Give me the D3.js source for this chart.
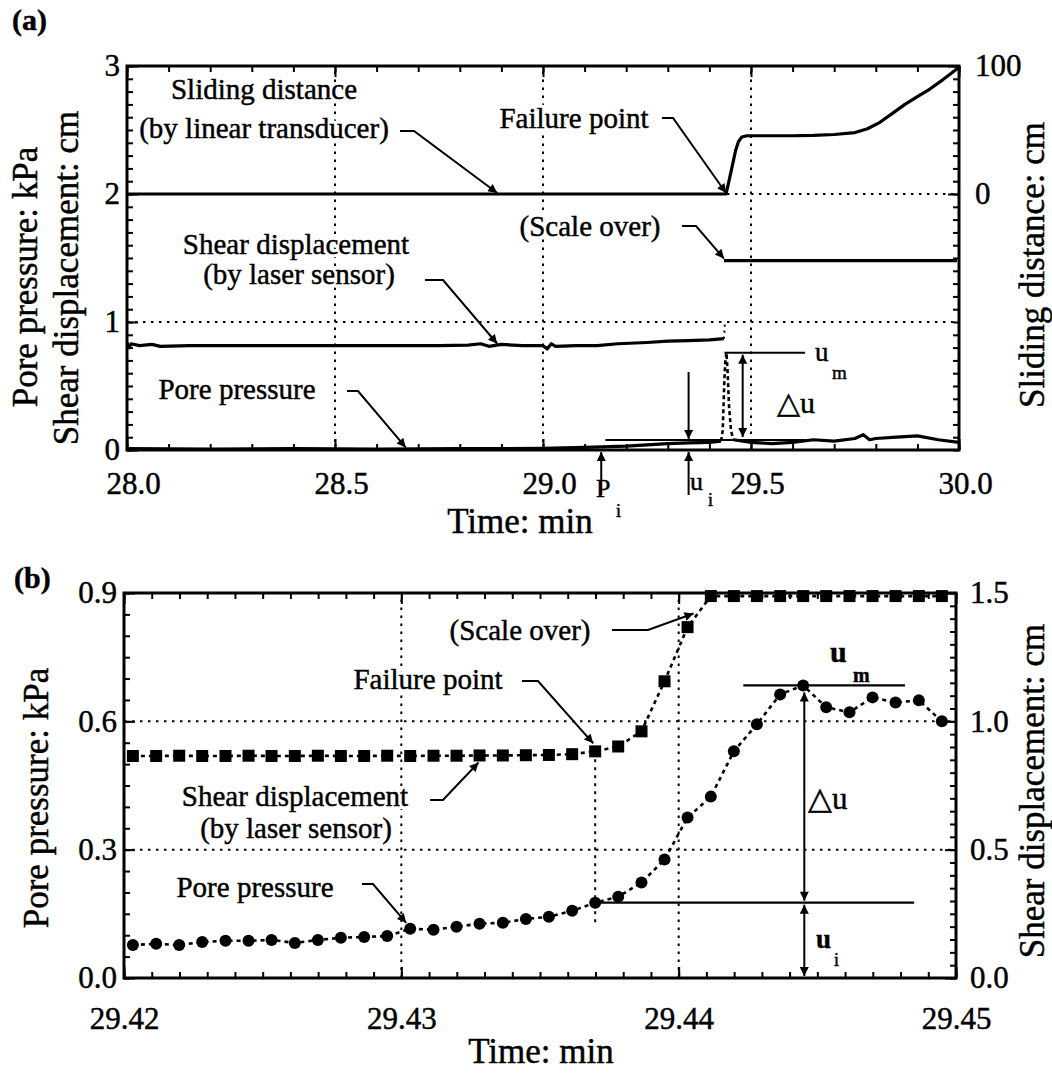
<!DOCTYPE html>
<html><head><meta charset="utf-8">
<script src="https://cdn.jsdelivr.net/npm/d3@7"></script>
<style>
body{margin:0;background:#fff;}
svg text{font-family:"Liberation Serif","Times New Roman",serif;fill:#000;stroke:#000;stroke-width:0.45px;}
svg text.halo{fill:#fff;stroke:#fff;stroke-width:7px;stroke-linejoin:round;}
</style></head><body>
<svg id="c" width="1052" height="1077"></svg>
<script>
// ================= Panel (a) data =================
const aTimeTicks = [28.0, 28.5, 29.0, 29.5, 30.0];
const aTimeTickLabels = ["28.0", "28.5", "29.0", "29.5", "30.0"];
const aLeftTicks = [0, 1, 2, 3];
const aLeftTickLabels = ["0", "1", "2", "3"];
const aRightTicks = [0, 100];
const aRightTickLabels = ["0", "100"];
const aGridTimes = [28.5, 29.0, 29.5];
const aGridLeft = [1, 2];

// Sliding distance (right axis, cm)
const aSlideTime = [28.0, 29.0, 29.44, 29.447, 29.455, 29.463, 29.47, 29.478, 29.49, 29.55, 29.60, 29.65, 29.70, 29.75, 29.78, 29.81, 29.84, 29.87, 29.90, 29.93, 29.96, 29.98, 30.0];
const aSlideVal  = [0, 0, 0, 10, 22, 34, 41, 44.5, 45.5, 45.5, 45.5, 45.8, 46.5, 48, 51, 56, 63, 70, 76, 82, 89, 94, 99];

// Shear displacement by laser sensor (left axis, cm)
const aShearTime = [28.00, 28.005, 28.01, 28.03, 28.06, 28.08, 28.15, 28.30, 28.45, 28.60, 28.75, 28.82, 28.85, 28.87, 28.90, 28.95, 29.00, 29.01, 29.02, 29.03, 29.08, 29.13, 29.18, 29.25, 29.30, 29.35, 29.40, 29.435];
const aShearVal  = [0.84, 0.80, 0.83, 0.815, 0.825, 0.81, 0.815, 0.815, 0.815, 0.815, 0.815, 0.82, 0.83, 0.81, 0.825, 0.815, 0.815, 0.79, 0.83, 0.81, 0.815, 0.815, 0.83, 0.84, 0.85, 0.855, 0.86, 0.87];
// Shear displacement after scale over
const aShearOverTime = [29.435, 29.995];
const aShearOverVal  = [1.48, 1.48];
const aShearJumpTime = [29.435, 29.437];
const aShearJumpVal  = [0.87, 0.98];

// Pore pressure (left axis, kPa)
const aPoreTime1 = [28.00, 28.20, 28.40, 28.60, 28.80, 29.00, 29.10, 29.20, 29.25, 29.30, 29.35, 29.40, 29.428];
const aPoreVal1  = [0.01, 0.008, 0.01, 0.008, 0.01, 0.012, 0.02, 0.03, 0.04, 0.05, 0.055, 0.06, 0.07];
const aPoreSpikeTime = [29.428, 29.432, 29.434, 29.436, 29.438, 29.441, 29.444, 29.447, 29.452, 29.458];
const aPoreSpikeVal  = [0.07, 0.15, 0.35, 0.55, 0.68, 0.76, 0.60, 0.35, 0.15, 0.08];
const aPoreTime2 = [29.458, 29.50, 29.55, 29.60, 29.65, 29.70, 29.75, 29.77, 29.785, 29.80, 29.85, 29.90, 29.95, 30.0];
const aPoreVal2  = [0.08, 0.06, 0.05, 0.06, 0.08, 0.07, 0.09, 0.12, 0.08, 0.09, 0.10, 0.11, 0.08, 0.06];

// key levels (a)
const aUm = 0.76, aUi = 0.078, aUmTime = [29.436, 29.63], aUiTime = [29.15, 29.63];
const aDeltaTime = 29.48, aUiArrowTime = 29.35, aPiTime = 29.14;

// ================= Panel (b) data =================
const bTimeTicks = [29.42, 29.43, 29.44, 29.45];
const bTimeTickLabels = ["29.42", "29.43", "29.44", "29.45"];
const bLeftTicks = [0, 0.3, 0.6, 0.9];
const bLeftTickLabels = ["0.0", "0.3", "0.6", "0.9"];
const bRightTicks = [0, 0.5, 1.0, 1.5];
const bRightTickLabels = ["0.0", "0.5", "1.0", "1.5"];
const bGridTimes = [29.43, 29.44];
const bGridLeft = [0.3, 0.6];

const bTime = [29.42032, 29.42116, 29.42199, 29.42282, 29.42366, 29.42449, 29.42532, 29.42616, 29.42699, 29.42782,
               29.42866, 29.42949, 29.43032, 29.43116, 29.43199, 29.43282, 29.43366, 29.43449, 29.43532, 29.43616,
               29.43699, 29.43782, 29.43866, 29.43949, 29.44032, 29.44116, 29.44199, 29.44282, 29.44366, 29.44449,
               29.44532, 29.44616, 29.44699, 29.44782, 29.44866, 29.44949];
// Pore pressure (kPa, left axis)
const bPore = [0.077, 0.080, 0.077, 0.084, 0.087, 0.087, 0.089, 0.082, 0.089, 0.094,
               0.096, 0.098, 0.115, 0.113, 0.120, 0.127, 0.129, 0.138, 0.143, 0.157,
               0.176, 0.190, 0.223, 0.277, 0.375, 0.424, 0.530, 0.593, 0.663, 0.684,
               0.633, 0.621, 0.656, 0.644, 0.649, 0.600];
// Shear displacement (cm, right axis)
const bShear = [0.865, 0.865, 0.866, 0.865, 0.865, 0.866, 0.865, 0.865, 0.866, 0.865,
                0.865, 0.866, 0.865, 0.866, 0.866, 0.867, 0.867, 0.868, 0.869, 0.872,
                0.883, 0.902, 0.961, 1.156, 1.367, 1.488, 1.488, 1.488, 1.488, 1.488,
                1.488, 1.488, 1.488, 1.488, 1.488, 1.488];
const bFailIndex = 20, bPeakIndex = 29;
const bUiTimeEnd = 29.44849, bUmTime = [29.44233, 29.44816];
const bDeltaTime = 29.44453;

// ================= Drawing =================
const svg = d3.select("#c");
const defs = svg.append("defs");
defs.append("marker").attr("id", "ah").attr("viewBox", "0 0 10 10")
  .attr("refX", 10).attr("refY", 5).attr("markerWidth", 16).attr("markerHeight", 9)
  .attr("markerUnits", "userSpaceOnUse").attr("orient", "auto-start-reverse")
  .append("path").attr("d", "M0,0 L10,5 L0,10 Z").attr("fill", "#000");

const TICKF = 31, ANNF = 29, TITLEF = 35;

function text(g, x, y, s, size, anchor, extra) {
  const t = g.append("text").attr("x", x).attr("y", y).attr("font-size", size)
    .attr("text-anchor", anchor || "middle").text(s);
  if (extra) extra(t);
  return t;
}
function annText(gHalo, gText, x, y, s) {
  text(gHalo, x, y, s, ANNF, "middle").attr("class", "halo");
  return text(gText, x, y, s, ANNF, "middle");
}
function leader(g, pts) {
  g.append("path").attr("d", d3.line()(pts)).attr("fill", "none")
    .attr("stroke", "#000").attr("stroke-width", 2).attr("marker-end", "url(#ah)");
}
function vArrow(g, x, y1, y2, both) {
  const p = g.append("line").attr("x1", x).attr("x2", x).attr("y1", y1).attr("y2", y2)
    .attr("stroke", "#000").attr("stroke-width", 2).attr("marker-end", "url(#ah)");
  if (both) p.attr("marker-start", "url(#ah)");
}
function rotText(g, x, y, s) {
  g.append("text").attr("transform", `translate(${x},${y}) rotate(-90)`).attr("dy", "0.35em")
    .attr("text-anchor", "middle").attr("font-size", TITLEF).text(s);
}

function frameAndAxes(g, x, yL, yR, opt) {
  const [x0, x1] = x.range(); const [y0, y1] = yL.range();
  const grid = g.append("g").attr("stroke", "#000").attr("stroke-width", 2).attr("stroke-dasharray", "2.5,5.5");
  opt.gridX.forEach(t => grid.append("line").attr("x1", x(t)).attr("x2", x(t)).attr("y1", y0).attr("y2", y1));
  opt.gridY.forEach(v => grid.append("line").attr("x1", x0).attr("x2", x1).attr("y1", yL(v)).attr("y2", yL(v)));
  function styleAxis(a) {
    a.select(".domain").remove();
    a.selectAll("line").attr("stroke-width", 2);
    a.selectAll("text").attr("font-size", TICKF).attr("font-family", "Liberation Serif, serif");
  }
  g.append("g").attr("transform", `translate(0,${y0})`)
    .call(d3.axisBottom(x).tickValues(opt.minorX).tickSize(-6).tickFormat("")).call(styleAxis);
  g.append("g").attr("transform", `translate(0,${y0})`)
    .call(d3.axisBottom(x).tickValues(opt.xTicks).tickSize(-11).tickPadding(opt.xPad)
      .tickFormat((d, i) => opt.xLabels[i])).call(styleAxis)
    .selectAll("text").attr("dx", opt.xdx);
  g.append("g").attr("transform", `translate(0,${y1})`)
    .call(d3.axisTop(x).tickValues(opt.minorX).tickSize(-6).tickFormat("")).call(styleAxis);
  g.append("g").attr("transform", `translate(0,${y1})`)
    .call(d3.axisTop(x).tickValues(opt.xTicks).tickSize(-11).tickFormat("")).call(styleAxis);
  g.append("g").attr("transform", `translate(${x0},0)`)
    .call(d3.axisLeft(yL).tickValues(opt.minorL).tickSize(-6).tickFormat("")).call(styleAxis);
  g.append("g").attr("transform", `translate(${x0},0)`)
    .call(d3.axisLeft(yL).tickValues(opt.lTicks).tickSize(-11).tickPadding(7)
      .tickFormat((d, i) => opt.lLabels[i])).call(styleAxis);
  g.append("g").attr("transform", `translate(${x1},0)`)
    .call(d3.axisRight(yR).tickValues(opt.minorR).tickSize(-6).tickFormat("")).call(styleAxis);
  g.append("g").attr("transform", `translate(${x1},0)`)
    .call(d3.axisRight(yR).tickValues(opt.rTicks).tickSize(-11).tickPadding(opt.rPad)
      .tickFormat((d, i) => opt.rLabels[i])).call(styleAxis);
  g.append("rect").attr("x", x0).attr("y", y1).attr("width", x1 - x0).attr("height", y0 - y1)
    .attr("fill", "none").attr("stroke", "#000").attr("stroke-width", 3);
}

function rng(a, b, s) { const out = []; for (let v = a; v <= b + s / 1000; v += s) out.push(+v.toFixed(6)); return out; }

// ---------- Panel (a) ----------
{
  const g = svg.append("g");
  const x = d3.scaleLinear().domain([28, 30]).range([127, 959]);
  const yL = d3.scaleLinear().domain([0, 3]).range([450, 66]);
  const yR = d3.scaleLinear().domain([-200, 100]).range([450, 66]);

  frameAndAxes(g, x, yL, yR, {
    gridX: aGridTimes, gridY: aGridLeft,
    minorX: rng(28, 30, 0.1), xTicks: aTimeTicks, xLabels: aTimeTickLabels, xPad: 22, xdx: 6,
    minorL: rng(0, 3, 0.1), lTicks: aLeftTicks, lLabels: aLeftTickLabels,
    minorR: rng(-200, 100, 10), rTicks: aRightTicks, rLabels: aRightTickLabels, rPad: 16
  });

  const lineL = d3.line().x(d => x(d[0])).y(d => yL(d[1]));
  const lineR = d3.line().x(d => x(d[0])).y(d => yR(d[1]));
  const zip = (a, b) => a.map((t, i) => [t, b[i]]);
  const solid = p => p.attr("fill", "none").attr("stroke", "#000").attr("stroke-width", 3.2).attr("stroke-linejoin", "round");

  const gh = g.append("g"), gt = g.append("g");
  annText(gh, gt, 264, 99, "Sliding distance");
  annText(gh, gt, 264, 138, "(by linear transducer)");
  annText(gh, gt, 574, 128, "Failure point");
  annText(gh, gt, 590, 236, "(Scale over)");
  annText(gh, gt, 296, 254, "Shear displacement");
  annText(gh, gt, 299, 284, "(by laser sensor)");
  annText(gh, gt, 237, 399, "Pore pressure");

  solid(g.append("path").attr("d", lineR(zip(aSlideTime, aSlideVal))));
  solid(g.append("path").attr("d", lineL(zip(aShearTime, aShearVal))));
  solid(g.append("path").attr("d", lineL(zip(aShearOverTime, aShearOverVal))));
  g.append("path").attr("d", lineL(zip(aShearJumpTime, aShearJumpVal))).attr("fill", "none")
    .attr("stroke", "#000").attr("stroke-width", 2).attr("stroke-dasharray", "2,4");
  solid(g.append("path").attr("d", lineL(zip(aPoreTime1, aPoreVal1))));
  g.append("path").attr("d", lineL(zip(aPoreSpikeTime, aPoreSpikeVal))).attr("fill", "none")
    .attr("stroke", "#000").attr("stroke-width", 2.6).attr("stroke-dasharray", "4,3");
  solid(g.append("path").attr("d", lineL(zip(aPoreTime2, aPoreVal2))));

  leader(g, [[400, 131], [414, 131], [x(28.89), yR(0) - 1]]);
  leader(g, [[662, 118], [673, 118], [x(29.44), yR(0) - 1]]);
  leader(g, [[682, 226], [696, 226], [x(29.435), yL(1.48) - 2]]);
  leader(g, [[425, 280], [443, 280], [x(28.89), yL(0.83)]]);
  leader(g, [[347, 391], [358, 391], [x(28.67), yL(0.02)]]);

  g.append("line").attr("x1", x(aUmTime[0])).attr("x2", x(aUmTime[1])).attr("y1", yL(aUm)).attr("y2", yL(aUm))
    .attr("stroke", "#000").attr("stroke-width", 2);
  g.append("line").attr("x1", x(aUiTime[0])).attr("x2", x(aUiTime[1])).attr("y1", yL(aUi)).attr("y2", yL(aUi))
    .attr("stroke", "#000").attr("stroke-width", 2);
  vArrow(g, x(aDeltaTime), yL(aUi) - 3, yL(aUm) + 2, true);
  vArrow(g, x(aUiArrowTime), yL(aUi) - 68, yL(aUi) - 1, false);
  vArrow(g, x(aUiArrowTime), yL(0) + 45, yL(0) + 2, false);
  vArrow(g, x(aPiTime), yL(0) + 45, yL(0) + 2, false);
  text(g, 815, 361, "u", 27, "start");
  text(g, 832, 379, "m", 19, "start");
  text(g, 777, 413, "\u25B3u", 30, "start");
  text(g, 690, 490, "u", 26, "start");
  text(g, 708, 506, "i", 18, "start");
  text(g, 596, 497, "P", 26, "start");
  text(g, 616, 517, "i", 18, "start");

  text(g, 12, 30, "(a)", 30, "start", t => t.attr("font-weight", "bold"));
  text(g, 520, 533, "Time: min", TITLEF);
  rotText(g, 25, 277, "Pore pressure: kPa");
  rotText(g, 66, 278, "Shear displacement: cm");
  rotText(g, 1032, 265, "Sliding distance: cm");
}

// ---------- Panel (b) ----------
{
  const g = svg.append("g");
  const x = d3.scaleLinear().domain([29.42, 29.45]).range([124, 956]);
  const yL = d3.scaleLinear().domain([0, 0.9]).range([978, 593]);
  const yR = d3.scaleLinear().domain([0, 1.5]).range([978, 593]);

  frameAndAxes(g, x, yL, yR, {
    gridX: bGridTimes, gridY: bGridLeft,
    minorX: rng(29.42, 29.45, 0.001), xTicks: bTimeTicks, xLabels: bTimeTickLabels, xPad: 29, xdx: 0,
    minorL: rng(0, 0.9, 0.05), lTicks: bLeftTicks, lLabels: bLeftTickLabels,
    minorR: rng(0, 1.5, 0.05), rTicks: bRightTicks, rLabels: bRightTickLabels, rPad: 14
  });

  const tf = bTime[bFailIndex];
  g.append("line").attr("x1", x(tf)).attr("x2", x(tf)).attr("y1", yR(bShear[bFailIndex])).attr("y2", yL(bPore[bFailIndex]) + 24)
    .attr("stroke", "#000").attr("stroke-width", 2).attr("stroke-dasharray", "3,5");

  const gh = g.append("g"), gt = g.append("g");
  annText(gh, gt, 520, 640, "(Scale over)");
  annText(gh, gt, 428, 689, "Failure point");
  annText(gh, gt, 295, 806, "Shear displacement");
  annText(gh, gt, 296, 838, "(by laser sensor)");
  annText(gh, gt, 255, 897, "Pore pressure");

  const pore = bTime.map((t, i) => [t, bPore[i]]);
  const shear = bTime.map((t, i) => [t, bShear[i]]);
  g.append("path").attr("d", d3.line().x(d => x(d[0])).y(d => yR(d[1]))(shear))
    .attr("fill", "none").attr("stroke", "#000").attr("stroke-width", 2.6).attr("stroke-dasharray", "4,4");
  g.append("path").attr("d", d3.line().x(d => x(d[0])).y(d => yL(d[1]))(pore))
    .attr("fill", "none").attr("stroke", "#000").attr("stroke-width", 2.6).attr("stroke-dasharray", "4,4");
  g.selectAll("rect.sq").data(shear).join("rect").attr("class", "sq")
    .attr("x", d => x(d[0]) - 6).attr("y", d => yR(d[1]) - 6).attr("width", 12).attr("height", 12).attr("fill", "#000");
  g.selectAll("circle.pt").data(pore).join("circle").attr("class", "pt")
    .attr("cx", d => x(d[0])).attr("cy", d => yL(d[1])).attr("r", 6).attr("fill", "#000");

  leader(g, [[612, 630], [648, 630], [x(bTime[24]) + 6, yR(1.42)]]);
  leader(g, [[522, 681], [538, 681], [x(tf) - 2, yR(bShear[bFailIndex]) - 8]]);
  leader(g, [[430, 800], [443, 800], [x(bTime[15]) - 1, yR(bShear[15]) + 7]]);
  leader(g, [[362, 884], [373, 884], [x(bTime[12]) - 4, yL(bPore[12]) - 6]]);

  const uM = bPore[bPeakIndex], uI = bPore[bFailIndex];
  g.append("line").attr("x1", x(bUmTime[0])).attr("x2", x(bUmTime[1])).attr("y1", yL(uM)).attr("y2", yL(uM))
    .attr("stroke", "#000").attr("stroke-width", 2.2);
  g.append("line").attr("x1", x(tf)).attr("x2", x(bUiTimeEnd)).attr("y1", yL(uI)).attr("y2", yL(uI))
    .attr("stroke", "#000").attr("stroke-width", 2.2);
  vArrow(g, x(bDeltaTime), yL(uI) - 2, yL(uM) + 7, true);
  vArrow(g, x(bDeltaTime), yL(0) - 2, yL(uI) + 2, true);
  text(g, 830, 662, "u", 30, "start", t => t.attr("font-weight", "bold"));
  text(g, 853, 682, "m", 20, "start", t => t.attr("font-weight", "bold"));
  text(g, 808, 809, "\u25B3u", 31, "start");
  text(g, 816, 948, "u", 27, "start", t => t.attr("font-weight", "bold"));
  text(g, 834, 966, "i", 18, "start");

  text(g, 14, 588, "(b)", 30, "start", t => t.attr("font-weight", "bold"));
  text(g, 541, 1063, "Time: min", TITLEF);
  rotText(g, 36, 798, "Pore pressure: kPa");
  rotText(g, 1032, 791, "Shear displacement: cm");
}
</script>
</body></html>
